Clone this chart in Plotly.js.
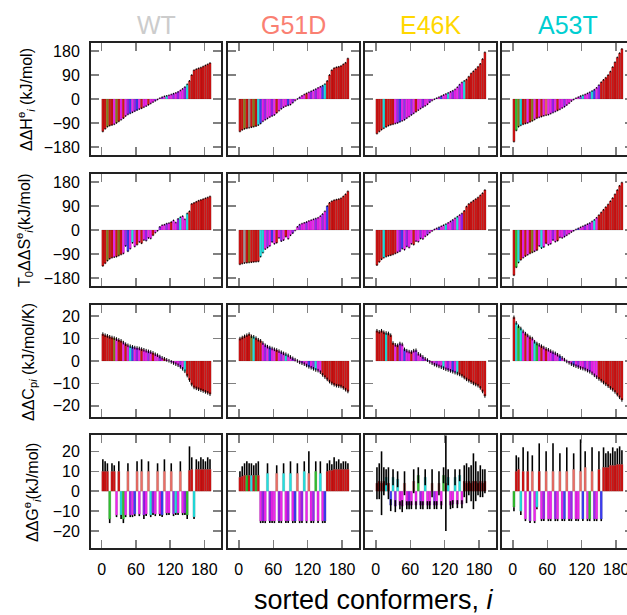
<!DOCTYPE html>
<html><head><meta charset="utf-8">
<script src="https://cdn.plot.ly/plotly-3.0.1.min.js"></script>
<style>html,body{margin:0;padding:0;overflow:hidden;background:#fff}#chart{width:660px;height:615px}</style>
</head><body><div id="chart"></div>
<script>
// ---------- data ----------
const variants = ['WT', 'G51D', 'E46K', 'A53T'];
const conformers = [0,4,8,12,16,20,24,28,32,36,40,44,48,52,56,60,64,68,72,76,80,84,88,92,96,100,104,108,112,116,120,124,128,132,136,140,144,148,152,156,160,164,168,172,176,180,184,188];
const xTickVals = [0, 60, 120, 180];
const hsTickVals = [-180, -90, 0, 90, 180];
const cgTickVals = [-20, -10, 0, 10, 20];

// ΔΔH (kJ/mol)
const dH_WT   = [-122,-112,-104,-100,-98,-95,-90,-84,-78,-72,-64,-58,-54,-50,-46,-42,-38,-35,-31,-27,-22,-17,-12,-7,-2,3,7,10,12,14,17,20,23,27,32,38,45,55,68,90,108,112,115,118,122,126,130,135];
const dH_G51D = [-122,-116,-112,-110,-108,-106,-104,-102,-98,-92,-84,-78,-73,-68,-64,-60,-52,-44,-37,-31,-27,-24,-21,-14,-6,0,6,12,17,21,25,29,33,37,42,46,50,56,68,90,108,116,119,121,124,130,136,152];
const dH_E46K = [-130,-122,-115,-110,-105,-100,-97,-95,-92,-90,-86,-82,-78,-72,-66,-60,-54,-48,-42,-36,-31,-26,-20,-12,-6,-1,3,7,11,15,19,23,27,31,36,44,54,62,68,73,84,96,104,112,121,132,150,175];
const dH_A53T = [-160,-118,-104,-99,-95,-92,-90,-86,-82,-77,-72,-69,-66,-63,-61,-59,-55,-51,-47,-43,-39,-34,-29,-23,-16,-8,-2,3,7,11,14,17,21,25,30,35,42,52,63,72,80,90,103,120,138,156,172,188];
// T0ΔΔS (kJ/mol)
const dS_WT   = [-135,-125,-115,-108,-104,-102,-100,-96,-92,-88,-60,-80,-70,-48,-62,-55,-45,-50,-38,-40,-30,-32,-20,-10,-3,12,18,20,24,26,30,36,28,42,48,52,40,62,70,98,102,106,110,113,116,119,122,126];
const dS_G51D = [-129,-126,-124,-123,-122,-121,-120,-119,-118,-100,-85,-72,-66,-60,-45,-52,-48,-30,-42,-38,-25,-33,-20,-12,-2,12,20,24,27,30,34,37,40,43,46,52,60,70,90,102,108,112,114,116,119,126,134,145];
const dS_E46K = [-132,-120,-110,-104,-100,-97,-95,-92,-88,-84,-80,-70,-74,-62,-66,-52,-55,-42,-44,-32,-34,-24,-18,-10,-4,2,6,10,14,18,22,27,32,38,44,50,56,62,72,88,98,104,110,116,122,130,138,150];
const dS_A53T = [-170,-140,-122,-112,-104,-98,-93,-88,-84,-80,-76,-60,-68,-64,-50,-56,-52,-38,-44,-40,-28,-30,-25,-20,-14,-8,-3,2,6,10,14,18,22,26,32,38,46,56,66,76,86,96,108,120,134,150,166,178];
// ΔΔCp (kJ/mol/K)
const dCp_WT   = [12,11.5,11.2,10.8,10.5,10.2,9.8,9.4,9.0,8.2,7.5,7.0,6.6,6.3,6.0,5.8,5.6,5.3,5.0,4.6,4.3,4.0,3.6,3.0,2.6,2.0,1.4,1.0,0.5,0.1,-0.4,-0.9,-1.4,-1.9,-2.6,-3.5,-4.6,-6.5,-8.5,-10.5,-11.8,-12.2,-12.6,-13.0,-13.4,-13.8,-14.2,-14.8];
const dCp_G51D = [10,10.5,11,11.5,12,11,10.8,10.2,9.5,9.0,8.0,7.0,6.4,6.0,5.6,5.2,4.9,4.4,3.9,3.4,3.0,2.5,1.8,1.2,0.6,0.0,-0.6,-1.0,-1.4,-2.0,-2.6,-3.0,-3.5,-4.0,-4.3,-5.0,-6.2,-7.2,-8.2,-9.2,-10.0,-10.6,-11.0,-11.2,-11.4,-12.0,-12.8,-13.6];
const dCp_E46K = [13.5,13,13.5,12.8,12.5,12.3,11.5,8,7.2,7.0,7.8,7.4,5.2,4.6,4.2,4.0,4.6,4.8,3.2,2.6,1.8,1.0,0.4,-0.4,-1.0,-1.6,-2.0,-2.4,-2.8,-3.2,-3.7,-4.0,-4.4,-4.8,-5.2,-5.6,-6.0,-6.6,-7.4,-8.2,-8.8,-9.4,-10.0,-10.5,-11.0,-12.0,-13.6,-15.6];
const dCp_A53T = [19.5,17,15.5,14.5,13.2,12.2,11.4,10.6,10.0,8.6,7.8,7.2,6.6,6.0,5.4,5.0,4.4,3.9,3.4,2.8,2.2,1.4,0.6,-0.2,-0.8,-1.4,-1.9,-2.3,-2.7,-3.1,-3.4,-3.8,-4.3,-4.8,-5.5,-6.4,-7.2,-8.0,-8.8,-9.6,-10.4,-11.2,-12.0,-12.8,-13.8,-15.0,-16.2,-17.4];
// ΔΔG (kJ/mol) and its uncertainty
const dG_WT   = [10,10,10,-14,10,10,-12,10,-12,-14,-12,10,-12,-12,-11.5,10,-11.5,10,-12,-11.5,10,-12,-11,-11.5,10,-11.5,-12,10,-11,-11,10,-11.5,-11,-11,10,-11,-11,-12,10.5,11,-13,11,11,11,11,11,11,11];
const dG_G51D = [7,7.5,8,8,8,8,8,8,8,-15,-15,-15,9,-15,-15,-15,9,-15,-15,9,-15,-15,9,-15,-15,9,-15,-15,10,-15,9,-15,-15,10,-15,9,-15,-15,10,10.5,10.5,11,11,11,11,11,11,11];
const dG_E46K = [4,5,4,5,7,4,-7,7,-7.5,6,-7,-7.5,4,-7,-7,-7,5,-7,8,-7,-7,7,-7,-7,4,-7,-7,4,-7,8,4,7,-7,-6.5,7,-6.5,8,-6.5,5,4,5,4,5,5,4,5,4,5];
const dG_A53T = [-8,10,11,-10,10,-14,10,-15,10,-15,-8,10,-14,-14,10,-14,-14,10,-14,-14,10,-14,-14,10,-14,-14,11,-14,-14,10,-14,12,-14,-14,10,-14,-14,11,-14,12,12,12,13,13,13,13.5,13.5,13.5];
const eG_WT   = [6,5,4,2,4,3,1,5,2,2,1,4,1,1,1,5,1,6,2,1,5,1,1,1,4,1,1,6,1,1,4,1,1,1,5,1,1,2,12,6,1,5,4,6,5,4,6,5];
const eG_G51D = [3,5,6,7,6,6,5,6,7,1,1,1,5,1,1,1,4,1,1,5,1,1,6,1,1,5,1,1,5,1,11,1,1,5,1,6,1,1,4,5,3,6,4,5,3,4,4,3];
const eG_E46K = [8,9,16,7,4,8,3,4,3,4,2,3,6,2,2,2,6,2,4,2,2,4,2,2,7,2,2,6,2,4,24,4,2,2,4,2,3,2,8,10,7,9,14,10,6,8,7,6];
const eG_A53T = [2,8,6,2,12,1,10,1,8,1,1,14,1,1,10,1,1,14,1,1,9,1,1,12,1,1,8,1,1,16,1,8,1,1,12,1,1,9,1,10,7,8,6,9,7,8,9,7];

// conformer class of each bar (R red, L light red, M magenta, P purple, B blue, C cyan, G green, O olive, K grey)
const cH_WT    = "RRORRMOR MRMPBMPB MRMMRMMP MMPMCMMP MPMMPCRR RRRRRRRR";
const cH_G51D  = "RRORKROR CBMPMMPM RMPMMBMP MMPMMRMP MPMMBCRR RRRRRRRR";
const cH_E46K  = "RRRCRRRR MPBMPMMP MRMMPMMP MMPMBMMC MPMMPMCR RRRRRRRR";
const cH_A53T  = "RGOCRRMR OMRMRMLM MPMRMMPM MMPMMPCM MPCBMPRR RRRRRRRR";
const cS_WT    = "RRORRMRO RMPBMCMR MRMPMMRM MPMMPMRM MPCMMCRR RRRRRRRR";
const cS_G51D  = "RRKRORRR RCCMPMBM RMPMRMMP MMPMMPMM MPMMPMBR RRRRRRRR";
const cS_E46K  = "RRRCRRRR RMPBMPMM RMMPMMPM MPMBMMCM MPMCMPRR RRRRRRRR";
const cS_A53T  = "RGCRMRMR OMRMCMRM MPMRMMPM MMPMBMMP MPMCMRRR RRRRRRRR";
const cCp_WT   = "RRRRROMR RMRMCBMP MRMMPMRM MPMRMMPM MMPMCRRR RRRRRRRR";
const cCp_G51D = "RRRRROCR RRMPMBMM RMPMCMMP MGMPMMBM PCMMRRRR RRRRRRRR";
const cCp_E46K = "RRRRCRRR MRPMBMMR MPMMPMBM MMPMMCMP MBMCRRRR RRRRRRRR";
const cCp_A53T = "RCGCMRMR MCGMRMRM MPMMBMMP MMBMPMMP MPMMMRRR RRRRRRRR";
const cG_WT    = "RRRGRRMR CGMLPMBL MLPMLCPM LMBLMMLP CMLMPGRR CRRRRRRR";
const cG_G51D  = "RRRGRCRG RMPMCPMM LPMCMPCM BLMPCMLM PGMCMBRR RRRRRRRR";
const cG_E46K  = "RRRRCRBC PCMMLMPM LMGPMCMM LPMLMGLC MMCMCMRR RRRRRRRR";
const cG_A53T  = "GRRCRMRP LMCRMPLM MLPMLMBL MPLMMLBL MGLPMRBR RRRRRRRR";

// ---------- styling ----------
const classColor = {R:'#d21414', L:'#ec6e66', M:'#f022f0', P:'#9c22f0', B:'#3c3cf5', C:'#22e0e0', G:'#30c030', O:'#8a7a14', K:'#a09494'};
const variantColors = ['#cccccc', '#fa8072', '#ffd700', '#00ced1'];
const W = 660, H = 615;
const colL = [91, 228, 365, 502], colR = [221, 359, 496, 633];
const rowT = [43, 174, 305, 435], rowB = [155, 286, 417, 548];

const rows = [
  {vals:[dH_WT,dH_G51D,dH_E46K,dH_A53T], cls:[cH_WT,cH_G51D,cH_E46K,cH_A53T], range:[-210,210], ticks:hsTickVals, cerr:3,
   title:'ΔΔH<sup>ө</sup><sub><i>i</i></sub> (kJ/mol)', tx:26, ty:99},
  {vals:[dS_WT,dS_G51D,dS_E46K,dS_A53T], cls:[cS_WT,cS_G51D,cS_E46K,cS_A53T], range:[-210,210], ticks:hsTickVals, cerr:3,
   title:'T<sub>0</sub>ΔΔS<sup>ө</sup><sub><i>i</i></sub>(kJ/mol)', tx:24, ty:230},
  {vals:[dCp_WT,dCp_G51D,dCp_E46K,dCp_A53T], cls:[cCp_WT,cCp_G51D,cCp_E46K,cCp_A53T], range:[-25,25], ticks:cgTickVals, cerr:0.8,
   title:'ΔΔC<sub>p<i>i</i></sub> (kJ/mol/K)', tx:29, ty:362},
  {vals:[dG_WT,dG_G51D,dG_E46K,dG_A53T], cls:[cG_WT,cG_G51D,cG_E46K,cG_A53T], range:[-28.5,28.2], ticks:cgTickVals,
   errs:[eG_WT,eG_G51D,eG_E46K,eG_A53T], symmetric:[false,false,true,false],
   title:'ΔΔG<sup>ө</sup><sub><i>i</i></sub>(kJ/mol)', tx:32, ty:493}
];

const FONT = 'Liberation Sans, Arial, Helvetica, sans-serif';
const traces = [];
const layout = {
  width: W, height: H, margin:{l:0,r:0,t:0,b:0},
  paper_bgcolor:'#fff', plot_bgcolor:'#fff', showlegend:false, bargap:0,
  font:{family:FONT, size:16, color:'#000'},
  annotations:[]
};

rows.forEach((row, r) => {
  for (let c = 0; c < 4; c++) {
    const n = r*4 + c + 1;
    const xa = 'xaxis' + (n === 1 ? '' : n), ya = 'yaxis' + (n === 1 ? '' : n);
    const xr = 'x' + (n === 1 ? '' : n), yr = 'y' + (n === 1 ? '' : n);
    const vals = row.vals[c];
    const codes = row.cls[c].replace(/\s/g, '');
    const colors = vals.map((v, i) => classColor[codes[i]] || classColor.R);
    let err;
    if (row.errs) {
      const e = row.errs[c];
      if (row.symmetric[c]) {
        err = {type:'data', array:e, symmetric:true, color:'#000', thickness:1.6, width:0};
      } else {
        err = {type:'data', symmetric:false,
               array: vals.map((v,i)=> v > 0 ? e[i] : 0),
               arrayminus: vals.map((v,i)=> v < 0 ? e[i] : 0),
               color:'#000', thickness:1.6, width:0};
      }
    } else {
      err = {type:'constant', value:row.cerr, color:'#000', thickness:1, width:0};
    }
    traces.push({
      type:'bar', x:conformers, y:vals, xaxis:xr, yaxis:yr,
      width:4, offset:0,
      marker:{color:colors, line:{width:0.4, color:'rgba(0,0,0,0.35)'}},
      error_y: err, hoverinfo:'skip'
    });
    layout[xa] = {
      domain:[colL[c]/W, colR[c]/W], anchor:yr, range:[-18.8, 209.3],
      tickvals:xTickVals, ticktext:xTickVals.map(String), showticklabels: r === 3,
      ticks:'inside', ticklen:8, tickwidth:1.5, tickcolor:'#808080',
      showline:true, linewidth:2, linecolor:'#222', mirror:'allticks',
      showgrid:false, zeroline:false, ticklabelstandoff:6,
      tickfont:{family:FONT, size:16, color:'#000'}
    };
    layout[ya] = {
      domain:[1 - rowB[r]/H, 1 - rowT[r]/H], anchor:xr, range:row.range,
      tickvals:row.ticks, showticklabels: c === 0,
      ticks:'inside', ticklen:8, tickwidth:1.5, tickcolor:'#808080',
      showline:true, linewidth:2, linecolor:'#222', mirror:'allticks',
      showgrid:false, zeroline:false, ticklabelstandoff:6,
      tickfont:{family:FONT, size:16, color:'#000'}
    };
  }
  layout.annotations.push({
    text: row.title, xref:'paper', yref:'paper', x: row.tx/W, y: 1 - row.ty/H,
    xanchor:'center', yanchor:'middle', textangle:-90, showarrow:false,
    font:{family:FONT, size:16, color:'#000'}
  });
});

variants.forEach((v, c) => {
  layout.annotations.push({
    text: v, xref:'paper', yref:'paper', x: ((colL[c]+colR[c])/2)/W, y: 1 - 25/H,
    xanchor:'center', yanchor:'middle', showarrow:false,
    font:{family:FONT, size:25, color:variantColors[c]}
  });
});
layout.annotations.push({
  text:'sorted conformers, <i>i</i>', xref:'paper', yref:'paper', x: 374/W, y: 1 - 600/H,
  xanchor:'center', yanchor:'middle', showarrow:false,
  font:{family:FONT, size:27, color:'#000'}
});

Plotly.newPlot('chart', traces, layout, {displayModeBar:false, staticPlot:true});
</script>
</body></html>
